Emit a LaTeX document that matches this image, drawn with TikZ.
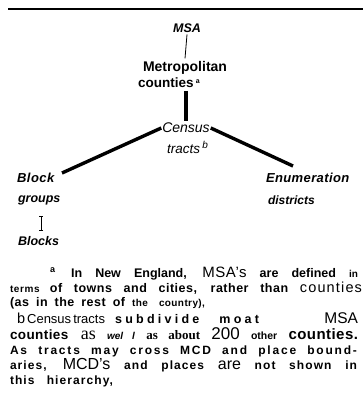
\documentclass[tikz,border=0pt]{standalone}
\usepackage{fontspec}
\setmainfont{Liberation Sans}
\newfontfamily\serifface{Liberation Serif}
\usetikzlibrary{arrows.meta}
\newcommand{\fsz}[1]{\fontsize{#1}{#1}\selectfont}
\newcommand{\lsp}[1]{\addfontfeatures{LetterSpace=#1}}
\tikzset{
  lbl/.style={inner sep=0pt, outer sep=0pt},
  fn/.style={inner sep=0pt, outer sep=0pt, anchor=base west, font=\bfseries\fsz{12.5}},
  thin/.style={line width=0.8pt},
  thick3/.style={line width=3.4pt},
}
\begin{document}
\begin{tikzpicture}[x=1pt,y=-1pt]
\useasboundingbox (0,0) rectangle (363,419);
\coordinate (ruleL) at (8,9);
\coordinate (ruleR) at (363,9);
\draw[line width=2.2pt] (ruleL) -- (ruleR);

\node[lbl, font=\bfseries\itshape\fsz{12.5}] (msa) at (187,28) {MSA};
\node[lbl, font=\bfseries\fsz{14}] (metro) at (185,68) {Metropolitan};
\node[lbl, anchor=west, font=\bfseries\fsz{13.5}] (counties) at (138,83) {counties\,\raisebox{4pt}{\fsz{7}a}};
\node[lbl, font=\itshape\fsz{14}] (census) at (186,128) {Census};
\node[lbl, anchor=west, font=\itshape\fsz{13.5}] (tracts) at (167,147) {tracts\,\raisebox{5pt}{\fsz{10}b}};

\node[lbl, anchor=west, font=\bfseries\itshape\fsz{13}\lsp{4}] (block) at (17,178) {Block};
\node[lbl, anchor=west, font=\bfseries\itshape\fsz{12.5}] (groups) at (18,200) {groups};
\node[lbl, anchor=west, font=\bfseries\itshape\fsz{12.5}] (blocks) at (18,241) {Blocks};

\node[lbl, anchor=west, font=\bfseries\itshape\fsz{13}\lsp{3}] (enum) at (266,178) {Enumeration};
\node[lbl, anchor=west, font=\bfseries\itshape\fsz{12}] (districts) at (268,200) {districts};

\coordinate (bgTop) at (41,216);
\coordinate (bgBot) at (41,231);
\coordinate (enumEnd) at (293,166);
\coordinate (blockEnd) at (62,173);

\draw[thin] ([yshift=-2pt]msa.south) -- ([yshift=3pt]metro.north);
\draw[thick3] ([yshift=-3pt]counties.south -| census.north) -- ([yshift=2pt]census.north);
\draw[thick3] ([xshift=-1pt]census.west) -- (blockEnd);
\draw[thick3] ([xshift=1pt]census.east) -- (enumEnd);
\draw[thin, {Bar[width=4pt]}-{Bar[width=4pt]}] (bgTop) -- (bgBot);

% footnotes
\node[fn] (f1) at (50,277) {\makebox[308pt][s]{\raisebox{5pt}{\fsz{9}a}\hspace{3pt} In New England, {\mdseries\fsz{15}\lsp{4}MSA's} are defined {\fsz{10}in}}};
\node[fn] (f2) at (10,292) {\makebox[352pt][s]{{\fsz{10}\lsp{6}terms} \lsp{4}of towns and cities, rather than {\mdseries\fsz{14.5}\lsp{8}counties}}};
\node[fn] (f3) at (10,306) {\makebox[195pt][s]{\lsp{4}(as in the rest of {\fsz{10}the\ \ country),}}};
\node[fn] (f4) at (17,323) {\makebox[341pt][s]{{\mdseries\fsz{14.5}b}\,{\mdseries\fsz{13}Census}\,{\mdseries\fsz{13}tracts}\hspace{10pt}{\lsp{26}subdivide}\hspace{20pt}{\lsp{26}moat}\hfill{\mdseries\fsz{15.5}MSA}}};
\node[fn] (f5) at (10,339) {\makebox[348pt][s]{{\fsz{13.5}\lsp{3}counties}\quad {\serifface\mdseries\fsz{18}as} {\itshape\fsz{10}wel l} {\serifface\fsz{13}as about} {\mdseries\fsz{17}200} {\fsz{10.5}other} {\fsz{15}\lsp{3}counties.}}};
\node[fn] (f6) at (10,354) {\makebox[347pt][s]{\fsz{12}\lsp{15}As tracts may cross MCD and place bound-}};
\node[fn] (f7) at (10,369) {\makebox[347pt][s]{\fsz{12}\lsp{9}aries, {\mdseries\fsz{16}\lsp{0}MCD's} and places {\mdseries\fsz{16}\lsp{0}are} not shown in}};
\node[fn] (f8) at (10,384) {\makebox[103pt][s]{\fsz{12}\lsp{9}this hierarchy,}};
\end{tikzpicture}
\end{document}
